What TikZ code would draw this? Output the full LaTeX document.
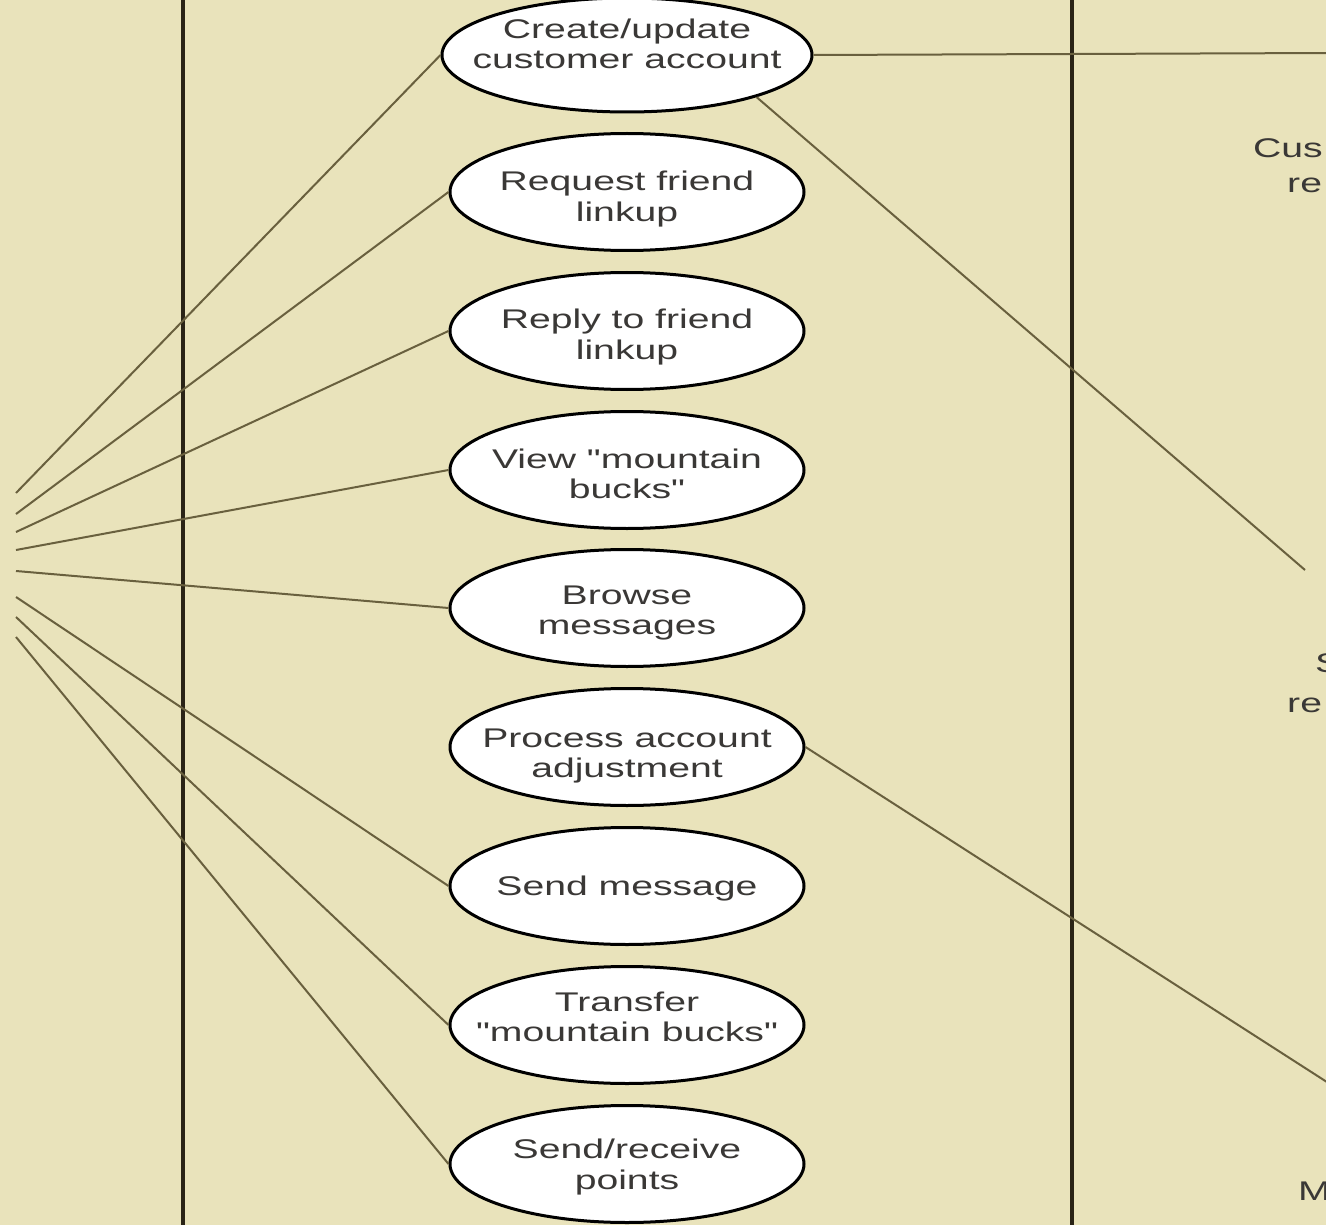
\documentclass[tikz,border=0pt]{standalone}
\usepackage{fontspec}
\setmainfont[FakeStretch=1.45,Ligatures=TeXOff]{Liberation Sans}
\usetikzlibrary{shapes.geometric}
\definecolor{bg}{RGB}{233,227,187}
\definecolor{linec}{RGB}{105,96,62}
\definecolor{bound}{RGB}{42,36,22}
\definecolor{txt}{RGB}{58,56,54}
\begin{document}
\begin{tikzpicture}[x=1pt,y=-1pt,
  uc/.style={ellipse, draw=black, line width=3pt, fill=white, minimum width=354pt, minimum height=117pt, inner sep=0pt},
  uctext/.style={align=center, inner sep=0pt, font=\fontsize{27}{30.5}\selectfont, text=txt},
  assoc/.style={draw=linec, line width=2pt},
  lbl/.style={anchor=base west, inner sep=0pt, font=\fontsize{27}{31}\selectfont, text=txt}]
\useasboundingbox (0,0) rectangle (1326,1225);
\clip (0,0) rectangle (1326,1225);
\fill[bg] (0,0) rectangle (1326,1225);

% system boundary
\draw[bound, line width=4pt] (183,-5) -- (183,1230);
\draw[bound, line width=4pt] (1072,-5) -- (1072,1230);

% actor end points (actors off picture)
\coordinate (a1) at (16,493);
\coordinate (a2) at (16,514);
\coordinate (a3) at (16,532);
\coordinate (a4) at (16,550);
\coordinate (a5) at (16,571);
\coordinate (a6) at (16,597);
\coordinate (a7) at (16,617);
\coordinate (a8) at (16,637);
\coordinate (r1) at (1330,53);
\coordinate (r2) at (1305,570);
\coordinate (r3) at (1330,1084);

% use cases
\node[uc, minimum width=370pt, minimum height=114pt] (e1) at (627,55) {};
\node[uc] (e2) at (627,192) {};
\node[uc] (e3) at (627,331) {};
\node[uc] (e4) at (627,470) {};
\node[uc] (e5) at (627,608) {};
\node[uc] (e6) at (627,747) {};
\node[uc] (e7) at (627,886) {};
\node[uc] (e8) at (627,1025) {};
\node[uc] (e9) at (627,1164) {};

\node[uctext] (t1) at ([yshift=11pt]e1) {Create/update\\customer account};
\node[uctext] (t2) at ([yshift=-7pt]e2) {Request friend\\linkup};
\node[uctext] (t3) at ([yshift=-6pt]e3) {Reply to friend\\linkup};
\node[uctext] (t4) at ([yshift=-4pt]e4) {View "mountain\\bucks"};
\node[uctext] (t5) at ([yshift=-5pt]e5) {Browse\\messages};
\node[uctext] (t6) at ([yshift=-9pt]e6) {Process account\\adjustment};
\node[uctext] (t7) at ([yshift=-3pt]e7) {Send message};
\node[uctext] (t8) at ([yshift=8pt]e8) {Transfer\\"mountain bucks"};
\node[uctext] (t9) at ([yshift=-3pt]e9) {Send/receive\\points};

% associations
\draw[assoc] (a1) -- (e1.west);
\draw[assoc] (a2) -- (e2.west);
\draw[assoc] (a3) -- (e3.west);
\draw[assoc] (a4) -- (e4.west);
\draw[assoc] (a5) -- (e5.west);
\draw[assoc] (a6) -- (e7.west);
\draw[assoc] (a7) -- (e8.west);
\draw[assoc] (a8) -- (e9.west);
\draw[assoc] (e1.east) -- (r1);
\draw[assoc] (e1.-18) -- (r2);
\draw[assoc] (e6.east) -- (r3);

% cut-off actor labels at the right edge
\node[lbl] (c1) at (1253,158) {Cus};
\node[lbl] (c2) at (1287,193) {re};
\node[lbl] (c3) at (1315,672) {S};
\node[lbl] (c4) at (1287,712) {re};
\node[lbl] (c5) at (1298,1200) {M};
\end{tikzpicture}
\end{document}
